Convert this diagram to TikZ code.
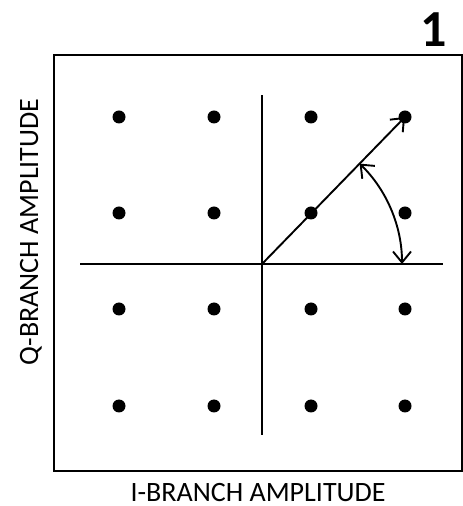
\documentclass[tikz,border=0pt]{standalone}
\usepackage{fontspec}
\setmainfont{Carlito}
\usepackage{tikz}
\usetikzlibrary{positioning,arrows.meta,calc}

\begin{document}
\begin{tikzpicture}[
    x=1pt, y=1pt,
    point/.style={circle, fill=black, minimum size=13pt, inner sep=0pt},
    axis/.style={line width=2.8pt},
    vec/.style={line width=1.9pt, -{Straight Barb[length=11pt, width=18pt, line width=1.9pt]}},
    angle/.style={line width=1.9pt, {Straight Barb[length=11pt, width=18pt, line width=1.9pt]}-{Straight Barb[length=11pt, width=18pt, line width=1.9pt]}},
    axis label/.style={font=\fontsize{28}{32}\selectfont, inner sep=0pt}
]
\useasboundingbox (0,0) rectangle (463,506);
% frame
\draw[line width=1.6pt] (54,35) rectangle (462,451);
% axes
\coordinate (o) at (262,242);
\coordinate (xl) at (80,242);
\coordinate (xr) at (443,242);
\coordinate (yb) at (262,71);
\coordinate (yt) at (262,411);
\draw[axis] (xl) -- (xr);
\draw[axis] (yb) -- (yt);
% constellation points
\foreach \x/\i in {119/1,214/2,311/3,405/4}
  \foreach \y/\j in {389/1,293/2,197/3,100/4}
    \node[point] (p\i\j) at (\x,\y) {};
% vector and angle
\draw[vec] (o) -- (p41.center);
\draw[angle] ($(o)+(0:140)$) arc (0:45.8:140);
% labels
\node[axis label, anchor=base] (ilabel) at (258,5) {I-BRANCH AMPLITUDE};
\node[axis label, anchor=base, rotate=90] (qlabel) at (38,274) {Q-BRANCH AMPLITUDE};
\node[font=\fontsize{52}{58}\selectfont\bfseries, anchor=base, inner sep=0pt] (num) at (434,459) {1};
\end{tikzpicture}
\end{document}
